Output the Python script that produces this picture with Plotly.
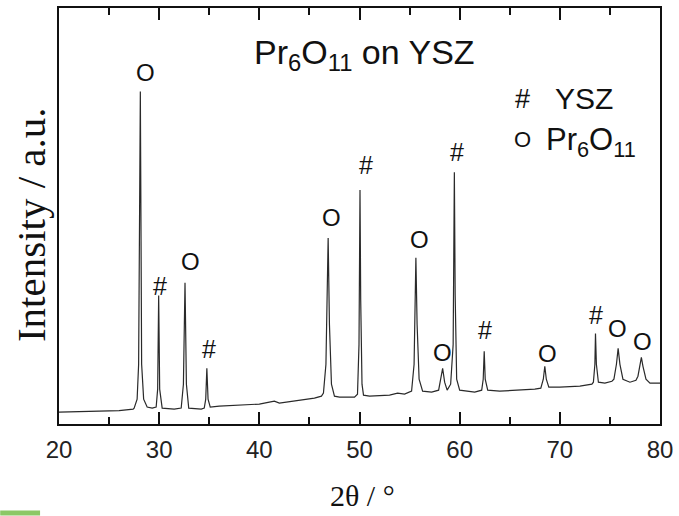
import plotly.graph_objects as go

# XRD pattern (2theta in degrees, intensity in a.u.)
two_theta = [
    20.0, 23.0, 26.0, 27.4,
    27.5, 27.8, 27.95, 28.12, 28.25, 28.45, 28.8,
    29.3,
    29.7, 29.85, 29.95, 30.05, 30.3,
    31.5,
    32.2, 32.42, 32.58, 32.72, 32.95,
    34.2,
    34.5, 34.65, 34.76, 34.88, 35.1,
    36.0, 38.0, 40.0, 41.0, 41.5, 42.0, 44.0, 45.5, 46.2,
    46.4, 46.65, 46.87, 47.0, 47.2, 47.5,
    48.0, 49.5,
    49.8, 49.95, 50.05, 50.12, 50.25, 50.4,
    51.0, 53.0, 53.8, 54.5,
    55.2, 55.45, 55.63, 55.75, 55.95, 56.3,
    57.2,
    57.9, 58.1, 58.3, 58.5, 58.75,
    59.1, 59.35, 59.47, 59.55, 59.7, 60.0,
    61.5,
    62.2, 62.35, 62.45, 62.55, 62.8,
    64.0, 66.0, 67.5,
    68.1, 68.35, 68.5, 68.65, 68.9,
    70.0, 72.0, 73.2,
    73.35, 73.5, 73.56, 73.65, 73.85,
    74.5, 75.2,
    75.4, 75.65, 75.82, 76.0, 76.3,
    77.0, 77.6,
    77.8, 78.0, 78.14, 78.3, 78.6, 79.0,
    80.0,
]
intensity = [
    12, 12.5, 13.5, 15,
    16, 25, 60, 334, 60, 25, 17,
    16,
    17, 35, 129, 35, 16,
    15,
    16, 40, 142, 40, 16,
    15,
    16, 25, 56, 25, 17,
    18, 19, 20, 22, 23, 21, 24, 26, 28,
    31, 60, 187, 100, 40, 28,
    27, 27,
    30, 80, 235, 125, 40, 29,
    28, 29, 31, 30,
    33, 60, 167, 100, 45, 33,
    32,
    34, 45, 56, 42, 34,
    40, 80, 253, 130, 45, 34,
    32,
    34, 45, 73, 45, 34,
    33, 34, 35,
    36, 45, 58, 45, 37,
    37, 38, 40,
    42, 60, 91, 60, 42,
    41, 43,
    45, 60, 76, 60, 45,
    42, 44,
    48, 60, 67, 58, 45, 41,
    41,
]

# Peak markers: phase symbol, position and label height
mark_symbol = ["O", "#", "O", "#", "O", "#", "O", "O", "#", "#", "O", "#", "O", "O"]
mark_x = [28.6, 30.05, 33.1, 35.0, 47.2, 50.6, 56.0, 58.3, 59.7, 62.5, 68.8, 73.66, 75.75, 78.3]
mark_y = [353, 139, 163, 75, 208, 260, 185, 72, 273, 94, 71, 110, 96, 83]

x_ticks = [20, 30, 40, 50, 60, 70, 80]
x_tick_text = ["20", "30", "40", "50", "60", "70", "80"]

SANS = "Liberation Sans, Arial, sans-serif"
SERIF = "Liberation Serif, Times New Roman, serif"

fig = go.Figure()
fig.add_trace(go.Scatter(
    x=two_theta, y=intensity, mode="lines",
    line=dict(color="#2a2a2a", width=1.2),
    showlegend=False, hoverinfo="skip",
))

annotations = []
for s, x, y in zip(mark_symbol, mark_x, mark_y):
    annotations.append(dict(
        x=x, y=y, xref="x", yref="y", text=s, showarrow=False,
        font=dict(family=SANS, size=25 if s == "#" else 24, color="#111"),
        xanchor="center", yanchor="middle",
    ))

# Title inside the plot
annotations.append(dict(
    x=(366 - 59) / 603, y=(424 - 53) / 418, xref="paper", yref="paper",
    text="Pr<sub>6</sub>O<sub>11</sub> on YSZ", showarrow=False,
    font=dict(family=SANS, size=34, color="#111"),
    xanchor="center", yanchor="middle",
))
# Legend text
annotations.append(dict(
    x=(515 - 59) / 603, y=(424 - 97) / 418, xref="paper", yref="paper",
    text="#", showarrow=False, font=dict(family=SANS, size=27, color="#111"),
    xanchor="left", yanchor="middle",
))
annotations.append(dict(
    x=(555 - 59) / 603, y=(424 - 97) / 418, xref="paper", yref="paper",
    text="YSZ", showarrow=False, font=dict(family=SANS, size=30, color="#111"),
    xanchor="left", yanchor="middle",
))
annotations.append(dict(
    x=(514 - 59) / 603, y=(424 - 138) / 418, xref="paper", yref="paper",
    text="O", showarrow=False, font=dict(family=SANS, size=22, color="#111"),
    xanchor="left", yanchor="middle",
))
annotations.append(dict(
    x=(546 - 59) / 603, y=(424 - 141) / 418, xref="paper", yref="paper",
    text="Pr<sub>6</sub>O<sub>11</sub>", showarrow=False,
    font=dict(family=SANS, size=31, color="#111"),
    xanchor="left", yanchor="middle",
))
# Axis titles
annotations.append(dict(
    x=(31 - 59) / 603, y=(424 - 224) / 418, xref="paper", yref="paper",
    text="Intensity / a.u.", showarrow=False, textangle=-90,
    font=dict(family=SERIF, size=41, color="#111"),
    xanchor="center", yanchor="middle",
))
annotations.append(dict(
    x=(364 - 59) / 603, y=(424 - 496) / 418, xref="paper", yref="paper",
    text="2θ / °", showarrow=False,
    font=dict(family=SERIF, size=30, color="#111"),
    xanchor="center", yanchor="middle",
))

fig.update_layout(
    width=679, height=516,
    margin=dict(l=59, r=17, t=6, b=92),
    paper_bgcolor="white", plot_bgcolor="white",
    annotations=annotations,
    shapes=[dict(
        type="rect", xref="paper", yref="paper",
        x0=-59 / 603, x1=(40 - 59) / 603,
        y0=(424 - 516) / 418, y1=(424 - 511) / 418,
        fillcolor="#8cc866", line=dict(width=0), layer="above",
    )],
    xaxis=dict(
        range=[20, 80], tickvals=x_ticks, ticktext=x_tick_text,
        ticks="inside", ticklen=12, tickwidth=2, tickcolor="#111",
        showline=True, linecolor="#111", linewidth=2, mirror="ticks",
        showgrid=False, zeroline=False,
        tickfont=dict(family=SANS, size=24, color="#222"),
        ticklabelstandoff=3,
        minor=dict(tickvals=[25, 35, 45, 55, 65, 75], ticks="inside",
                   ticklen=7, tickwidth=2, tickcolor="#111"),
    ),
    yaxis=dict(
        range=[0, 418], showticklabels=False, ticks="",
        showline=True, linecolor="#111", linewidth=2, mirror=True,
        showgrid=False, zeroline=False,
    ),
)

fig.write_html("out.html")
